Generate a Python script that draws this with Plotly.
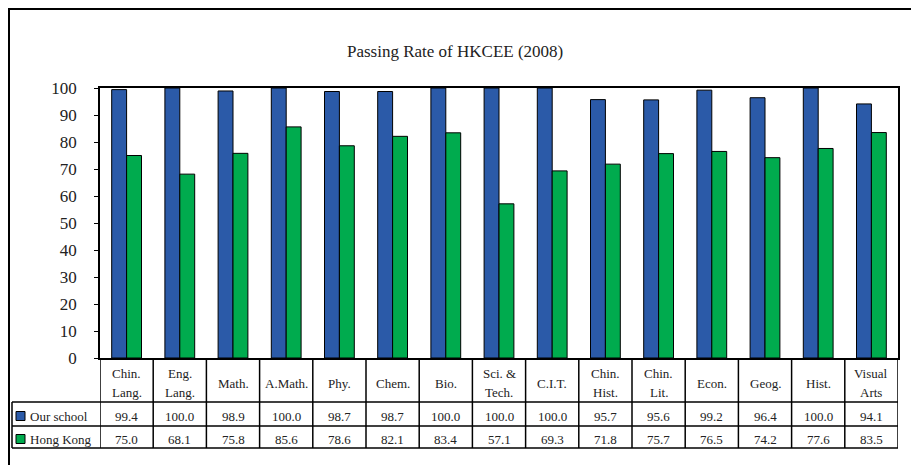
import plotly.graph_objects as go

# data
subjects = ["Chin. Lang.", "Eng. Lang.", "Math.", "A.Math.", "Phy.", "Chem.", "Bio.",
            "Sci. & Tech.", "C.I.T.", "Chin. Hist.", "Chin. Lit.", "Econ.", "Geog.",
            "Hist.", "Visual Arts"]
label_top = ["Chin.", "Eng.", "Math.", "A.Math.", "Phy.", "Chem.", "Bio.",
             "Sci. &", "C.I.T.", "Chin.", "Chin.", "Econ.", "Geog.", "Hist.", "Visual"]
label_bottom = ["Lang.", "Lang.", "", "", "", "", "", "Tech.", "", "Hist.", "Lit.",
                "", "", "", "Arts"]
our_school = [99.4, 100.0, 98.9, 100.0, 98.7, 98.7, 100.0, 100.0, 100.0, 95.7, 95.6,
              99.2, 96.4, 100.0, 94.1]
hong_kong = [75.0, 68.1, 75.8, 85.6, 78.6, 82.1, 83.4, 57.1, 69.3, 71.8, 75.7, 76.5,
             74.2, 77.6, 83.5]
series_names = ["Our school", "Hong Kong"]
colors = ["#2b5aa8", "#00ab4e"]

# page has an 8px body margin, so the figure is offset by 8px
OFF = 8
W, H = 919 - OFF, 465 - OFF
L, R, T, B = 100, 898, 88, 358


def py(y):
    # page pixel y -> paper y
    return (B - y) / (B - T)


def px_(x):
    return (x - L) / (R - L)


fig = go.Figure()
for name, vals, col in zip(series_names, [our_school, hong_kong], colors):
    fig.add_trace(go.Bar(x=subjects, y=vals, name=name, marker_color=col,
                         marker_line_color="black", marker_line_width=1))

font = "Liberation Serif"
txt = "#222222"
ann = []
shapes = []

# header row text
for s, a, b in zip(subjects, label_top, label_bottom):
    if b:
        ann.append(dict(x=s, y=py(373), text=a))
        ann.append(dict(x=s, y=py(392), text=b))
    else:
        ann.append(dict(x=s, y=py(383), text=a))

# value rows
for vals, yy in zip([our_school, hong_kong], [416, 439]):
    for s, v in zip(subjects, vals):
        ann.append(dict(x=s, y=py(yy), text=f"{v:.1f}"))

for a in ann:
    a.update(xref="x", yref="paper", showarrow=False, yanchor="middle",
             font=dict(family=font, size=13, color=txt))

# row labels
for name, col, yy in zip(series_names, colors, [416, 439]):
    ann.append(dict(x=px_(28), y=py(yy), xref="paper", yref="paper", text=name,
                    showarrow=False, xanchor="left", yanchor="middle",
                    font=dict(family=font, size=13, color=txt)))
    shapes.append(dict(type="rect", xref="paper", yref="paper",
                       x0=px_(16), x1=px_(25), y0=py(yy - 4.5), y1=py(yy + 4.5),
                       fillcolor=col, line=dict(color="black", width=1)))

# title
ann.append(dict(x=px_(455), y=py(40), xref="paper", yref="paper",
                text="Passing Rate of HKCEE (2008)", showarrow=False,
                font=dict(family=font, size=17, color=txt)))
fig.update_layout(annotations=ann)

line = dict(color="black", width=1.5)
# table horizontal lines
for yy in [402, 426, 448]:
    shapes.append(dict(type="line", xref="paper", yref="paper", x0=px_(12), x1=1,
                       y0=py(yy), y1=py(yy), line=line))
shapes.append(dict(type="line", xref="paper", yref="paper", x0=px_(12), x1=px_(12),
                   y0=py(402), y1=py(448), line=line))
# column separators
for i in range(len(subjects) + 1):
    shapes.append(dict(type="line", xref="x", yref="paper", x0=i - 0.5, x1=i - 0.5,
                       y0=0, y1=py(448), line=line))
# outer frame
shapes.append(dict(type="rect", xref="paper", yref="paper", x0=px_(9), x1=px_(940),
                   y0=py(9), y1=py(490), line=dict(color="black", width=2)))
fig.update_layout(shapes=shapes)

fig.update_layout(
    width=W, height=H,
    margin=dict(l=L - OFF, r=W + OFF - R, t=T - OFF, b=H + OFF - B),
    barmode="group", bargap=0.44, bargroupgap=0,
    showlegend=False,
    plot_bgcolor="white", paper_bgcolor="white",
)
fig.update_xaxes(showticklabels=False, showline=True, linecolor="black", linewidth=1.5,
                 mirror=True, ticks="", showgrid=False, range=[-0.5, len(subjects) - 0.5])
fig.update_yaxes(range=[0, 100], dtick=10, showline=True, linecolor="black", linewidth=1.5,
                 mirror=True, ticks="outside", ticklen=4, tickcolor="black",
                 ticklabelstandoff=14, showgrid=False, zeroline=False,
                 tickfont=dict(family=font, size=17, color=txt))

fig.write_html("out.html")
